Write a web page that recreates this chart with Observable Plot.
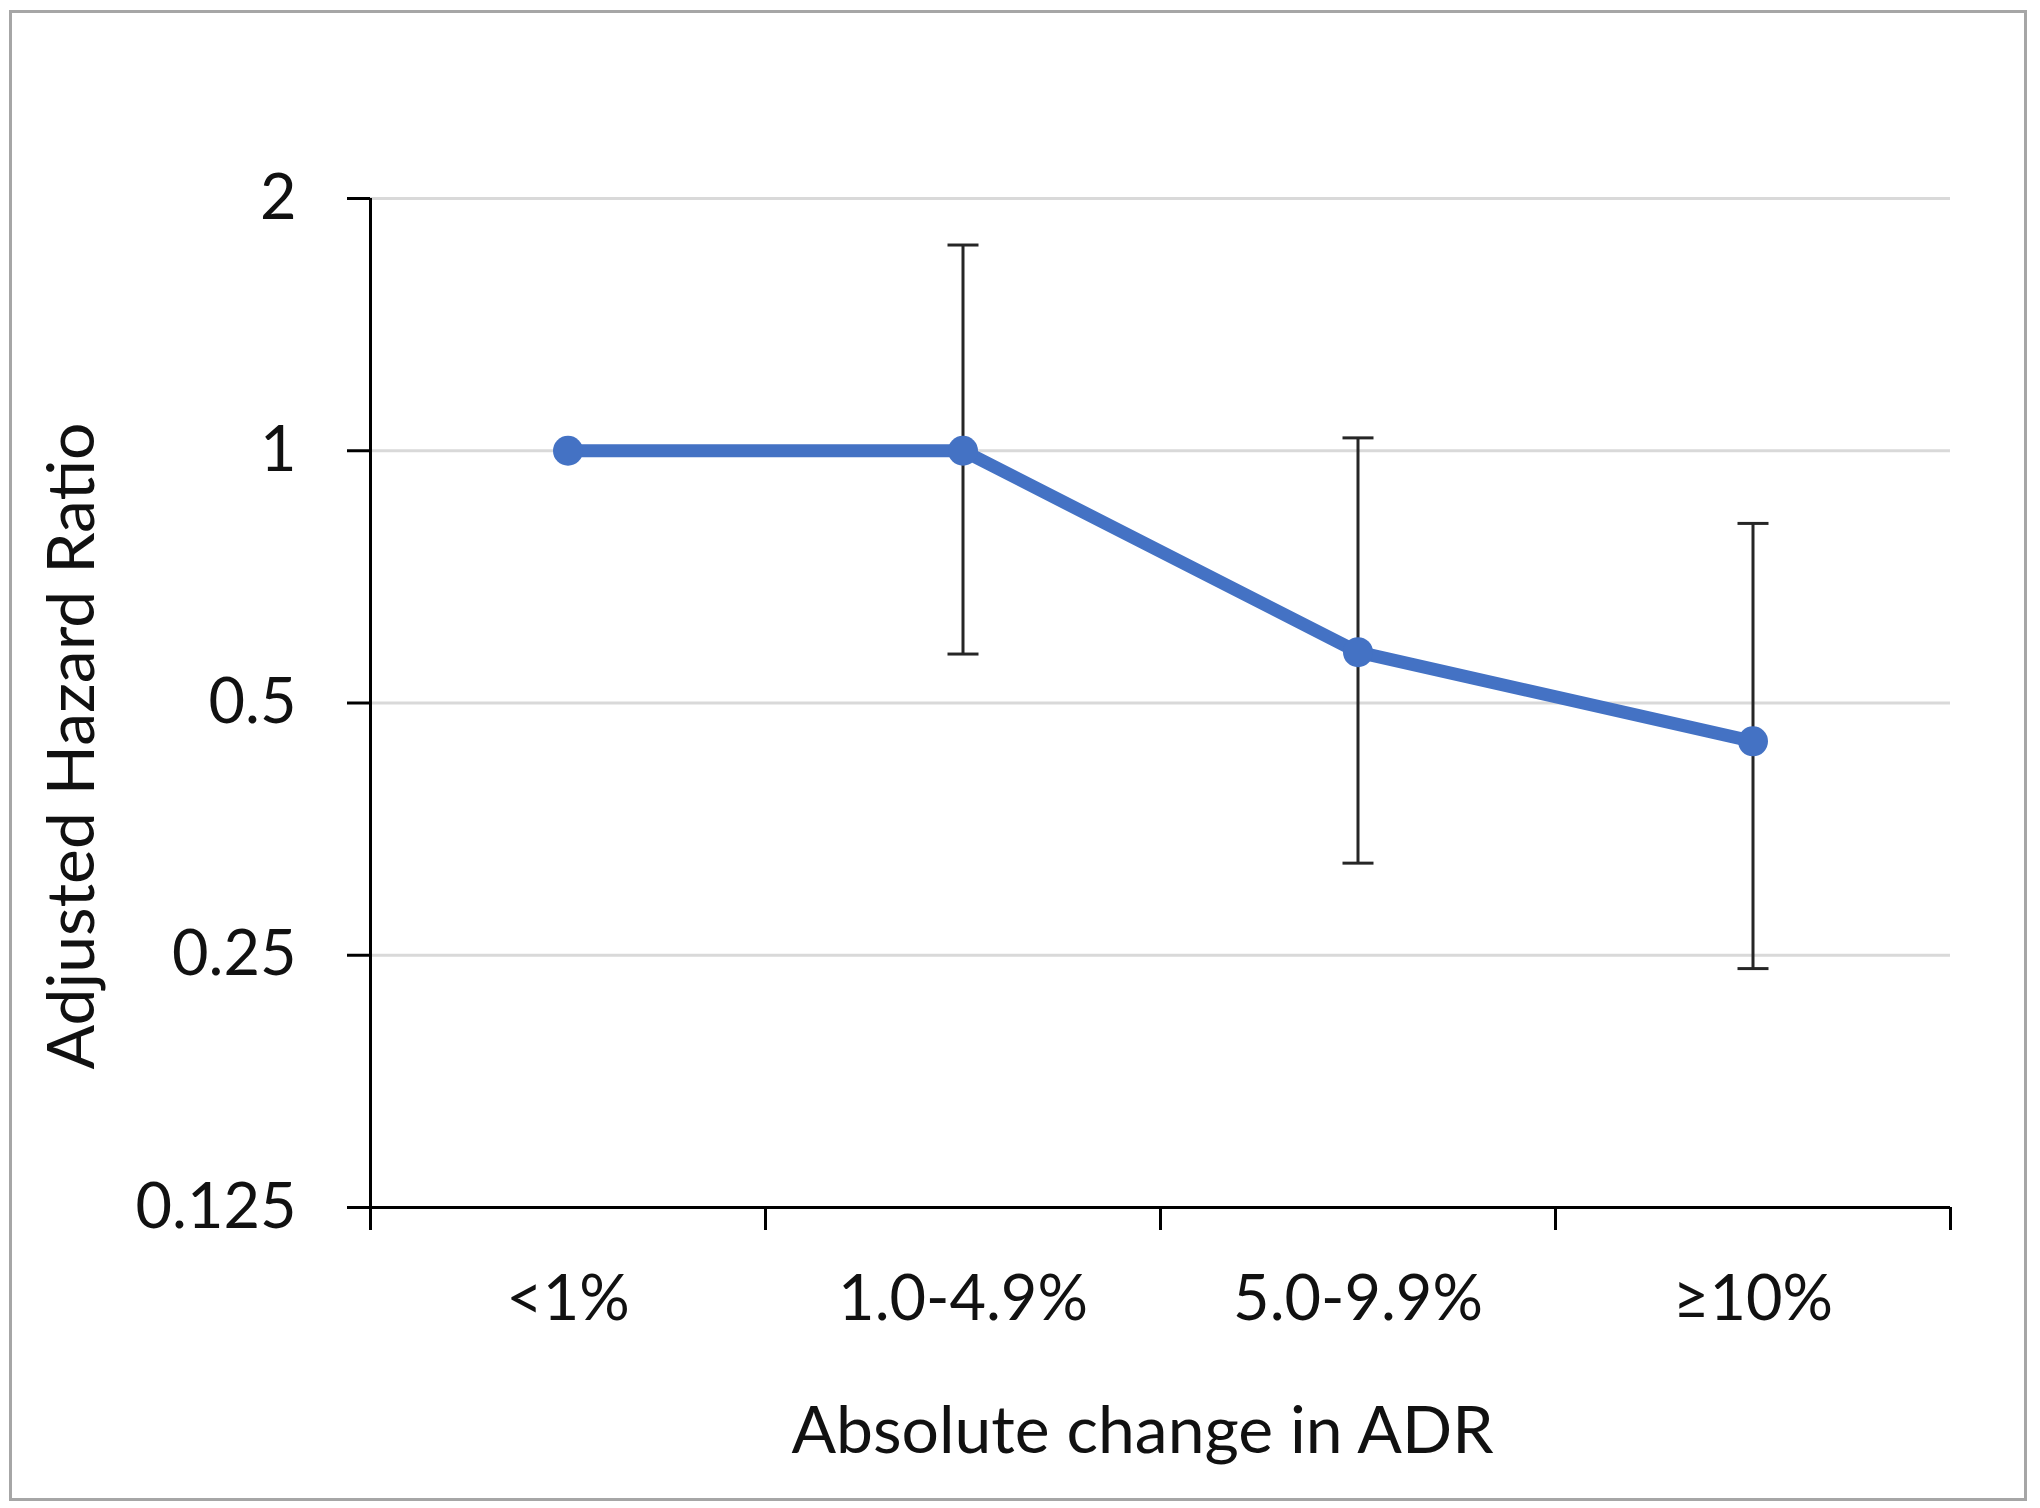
<!DOCTYPE html>
<html>
<head>
<meta charset="utf-8">
<script src="https://cdn.jsdelivr.net/npm/d3@7"></script>
<script src="https://cdn.jsdelivr.net/npm/@observablehq/plot@0.6"></script>
<style>
  html, body { margin: 0; padding: 0; background: #fff; }
  #wrap { position: relative; width: 2040px; height: 1508px; overflow: hidden; }
  #border { position: absolute; left: 9px; top: 10px; width: 2012px; height: 1485px; border: 3px solid #a6a6a6; box-sizing: content-box; pointer-events: none; }
  #chart { position: absolute; left: 0; top: 0; }
</style>
</head>
<body>
<div id="wrap"><div id="chart"></div><div id="border"></div></div>
<script>
// ---- data ----
const categories = ["<1%", "1.0-4.9%", "5.0-9.9%", "≥10%"];
const hazardRatio = [1, 1, 0.575, 0.45];
const ciLower = [null, 0.572, 0.322, 0.241];
const ciUpper = [null, 1.76, 1.036, 0.819];
const yTicks = [0.125, 0.25, 0.5, 1, 2];
const yTickLabels = ["0.125", "0.25", "0.5", "1", "2"];
const xTitle = "Absolute change in ADR";
const yTitle = "Adjusted Hazard Ratio";

// ---- build table ----
const data = categories.map((c, i) => ({
  category: c,
  pos: i + 0.5,
  hr: hazardRatio[i],
  lo: ciLower[i],
  hi: ciUpper[i]
}));
const withCI = data.filter(d => d.lo != null && d.hi != null);
const boundaries = d3.range(categories.length + 1);
const centers = data.map(d => d.pos);

const capSymbol = {
  draw(context, size) {
    const r = Math.sqrt(size / Math.PI);
    context.moveTo(-r, 0);
    context.lineTo(r, 0);
  }
};

const blue = "#4472C4";

const chart = Plot.plot({
  width: 2040,
  height: 1508,
  marginLeft: 370,
  marginRight: 90,
  marginTop: 198,
  marginBottom: 301,
  style: { fontFamily: "Lato, 'Open Sans', sans-serif", fontSize: "63px", color: "#111", background: "transparent", overflow: "visible" },
  x: { type: "linear", domain: [0, categories.length] },
  y: { type: "log", base: 2, domain: [0.125, 2] },
  marks: [
    Plot.ruleY(yTicks.slice(1), { stroke: "#d9d9d9", strokeWidth: 3 }),
    Plot.axisY({
      ticks: yTicks,
      tickFormat: d => yTickLabels[yTicks.indexOf(d)],
      tickSize: 23,
      tickPadding: 51,
      strokeWidth: 3,
      stroke: "#000",
      label: null
    }),
    Plot.axisX({
      ticks: boundaries,
      tickFormat: () => "",
      tickSize: 23,
      strokeWidth: 3,
      stroke: "#000",
      label: null
    }),
    Plot.axisX({
      ticks: centers,
      tickFormat: d => categories[Math.floor(d)],
      tickSize: 0,
      tickPadding: 68,
      label: null
    }),
    Plot.ruleX([0], { y1: 0.125, y2: 2, stroke: "#000", strokeWidth: 3 }),
    Plot.ruleY([0.125], { stroke: "#000", strokeWidth: 3 }),
    Plot.ruleX(withCI, { x: "pos", y1: "lo", y2: "hi", stroke: "#262626", strokeWidth: 3 }),
    Plot.dot(withCI, { x: "pos", y: "lo", symbol: capSymbol, r: 15.5, stroke: "#262626", strokeWidth: 3, fill: "none" }),
    Plot.dot(withCI, { x: "pos", y: "hi", symbol: capSymbol, r: 15.5, stroke: "#262626", strokeWidth: 3, fill: "none" }),
    Plot.line(data, { x: "pos", y: "hr", stroke: blue, strokeWidth: 13, strokeLinejoin: "round" }),
    Plot.dot(data, { x: "pos", y: "hr", r: 15, fill: blue, stroke: "none" }),
    Plot.text([xTitle], { frameAnchor: "bottom", dx: -18, dy: 224, lineAnchor: "middle", textAnchor: "middle", fontSize: 66, fill: "#111" }),
    Plot.text([yTitle], { frameAnchor: "left", rotate: -90, dx: -298, dy: 43, lineAnchor: "middle", textAnchor: "middle", fontSize: 66, fill: "#111" })
  ]
});

document.getElementById("chart").appendChild(chart);
</script>
</body>
</html>
